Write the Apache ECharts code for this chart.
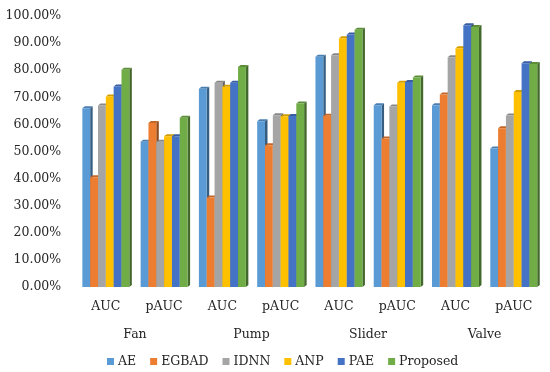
<!DOCTYPE html>
<html>
<head>
<meta charset="utf-8">
<script src="https://cdn.jsdelivr.net/npm/echarts@6/dist/echarts.min.js"></script>
<style>html,body{margin:0;padding:0;background:#fff}#c{width:550px;height:372px}</style>
</head>
<body>
<div id="c"></div>
<script>
const categories = ['AUC','pAUC','AUC','pAUC','AUC','pAUC','AUC','pAUC'];
const groups = ['Fan','Pump','Slider','Valve'];
const seriesNames = ['AE','EGBAD','IDNN','ANP','PAE','Proposed'];
const AE       = [66.0, 53.6, 73.2, 61.2, 85.0, 67.1, 67.1, 51.1];
const EGBAD    = [40.5, 60.5, 33.0, 52.3, 63.2, 54.8, 71.0, 58.6];
const IDNN     = [67.0, 53.6, 75.4, 63.4, 85.5, 66.6, 84.8, 63.3];
const ANP      = [70.3, 55.6, 73.9, 63.0, 91.8, 75.4, 88.1, 72.0];
const PAE      = [74.0, 55.6, 75.4, 63.1, 93.2, 75.6, 96.6, 82.6];
const Proposed = [80.2, 62.5, 81.2, 67.7, 94.9, 77.3, 95.9, 82.3];
const yTicks = [0,10,20,30,40,50,60,70,80,90,100];

const values = [AE, EGBAD, IDNN, ANP, PAE, Proposed];
const colors = ['#5B9BD5','#ED7D31','#A5A5A5','#FFC000','#4472C4','#70AD47'];
const FONT = 'DejaVu Serif';
const TXT = '#262626';

function shade(hex, f) {
  const n = parseInt(hex.slice(1), 16);
  const r = Math.round(((n >> 16) & 255) * f), g = Math.round(((n >> 8) & 255) * f), b = Math.round((n & 255) * f);
  return 'rgb(' + r + ',' + g + ',' + b + ')';
}

const nS = seriesNames.length;
const groupFrac = 0.806;
const dx = 2.5, dy = 2;

function makeRender(k) {
  const col = colors[k];
  return function (params, api) {
    const idx = api.value(0), v = api.value(1);
    const base = api.coord([idx, 0]);
    const top = api.coord([idx, v]);
    const band = api.size([1, 0])[0];
    const gw = band * groupFrac;
    const bw = gw / nS;
    const x0 = base[0] - gw / 2 + k * bw;
    const x1 = x0 + bw;
    const yt = top[1], yb = base[1];
    return {
      type: 'group',
      children: [
        { type: 'polygon', shape: { points: [[x1, yt], [x1 + dx, yt - dy], [x1 + dx, yb - dy], [x1, yb]] },
          style: { fill: shade(col, 0.6) } },
        { type: 'polygon', shape: { points: [[x0, yt], [x0 + dx, yt - dy], [x1 + dx, yt - dy], [x1, yt]] },
          style: { fill: shade(col, 0.82) } },
        { type: 'rect', shape: { x: x0, y: yt, width: bw, height: yb - yt },
          style: { fill: col } }
      ]
    };
  };
}

const series = seriesNames.map((name, k) => ({
  name: name,
  type: 'custom',
  xAxisIndex: 0,
  yAxisIndex: 0,
  itemStyle: { color: colors[k] },
  renderItem: makeRender(k),
  encode: { x: 0, y: 1 },
  data: values[k].map((v, i) => [i, v])
}));

const chart = echarts.init(document.getElementById('c'), null, { renderer: 'canvas' });
chart.setOption({
  animation: false,
  backgroundColor: '#fff',
  textStyle: { fontFamily: FONT },
  grid: { left: 76.7, right: 7.1, top: 16, bottom: 85, containLabel: false },
  legend: {
    data: seriesNames,
    left: 102,
    top: 350,
    icon: 'rect',
    itemWidth: 7,
    itemHeight: 7,
    itemGap: 14,
    textStyle: { fontFamily: FONT, fontSize: 12.5, color: TXT, padding: [0, 0, 0, -1] }
  },
  xAxis: [
    { type: 'category', data: categories, position: 'bottom',
      axisLine: { show: false }, axisTick: { show: false }, splitLine: { show: false },
      axisLabel: { fontFamily: FONT, fontSize: 12.5, color: TXT, margin: 13, interval: 0 } },
    { type: 'category', data: groups, position: 'bottom', offset: 28,
      axisLine: { show: false }, axisTick: { show: false }, splitLine: { show: false },
      axisLabel: { fontFamily: FONT, fontSize: 12.5, color: TXT, margin: 13, interval: 0 } }
  ],
  yAxis: {
    type: 'value', min: yTicks[0], max: yTicks[yTicks.length - 1], interval: 10,
    axisLine: { show: false }, axisTick: { show: false }, splitLine: { show: false },
    axisLabel: { fontFamily: FONT, fontSize: 12.5, color: TXT, margin: 15.5,
      formatter: v => v.toFixed(2) + '%' }
  },
  series: series
});
</script>
</body>
</html>
